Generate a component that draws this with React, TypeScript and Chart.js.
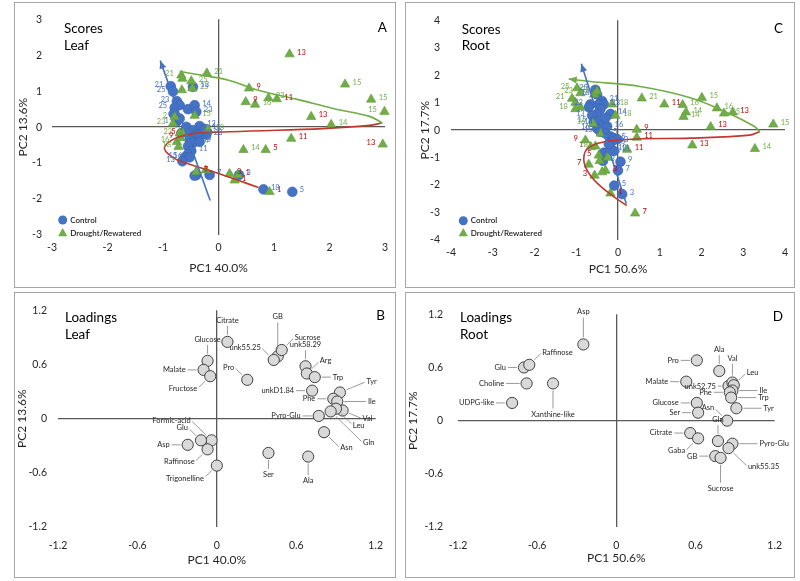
import React, { useEffect, useRef } from "react";
import { Chart, registerables } from "chart.js";
Chart.register(...registerables);

const FONT = "Lato, 'Noto Sans', sans-serif";
Chart.defaults.font.family = FONT;

const BLUE = "#4472c4";
const GREEN = "#70ad47";
const RED_LBL = "#c00000";
const CURVE_RED = "#c0392b";
const AXIS = "#595959";
const TICK = "#262626";

// ---------- tick values ----------
const leafScoreTicks = [-3, -2, -1, 0, 1, 2, 3];
const rootScoreTicks = [-4, -3, -2, -1, 0, 1, 2, 3, 4];
const loadingTicks = [-1.2, -0.6, 0, 0.6, 1.2];

// ---------- A: Scores Leaf ----------
const leafCtrlPC1 = [-0.86, -0.82, -0.75, -0.70, -0.79, -0.55, -0.43, -0.40, -0.46, -0.81, -0.76, -0.70, -0.58, -0.34, -0.46, -0.55, -0.40, -0.34, -0.52, -0.46, -0.55, -0.49, -0.55, -0.61, -0.52, -0.67, -0.22, -0.34, -0.40, -0.16, -0.43, 0.37, 0.81, 1.33, -0.65, -0.25];
const leafCtrlPC2 = [1.14, 0.99, 0.72, 0.61, 0.54, 0.50, 0.61, 0.43, 1.12, 0.37, 0.14, 0.24, 0.01, 0.03, -0.08, -0.17, -0.21, -0.21, -0.35, -0.44, -0.53, -0.66, -0.75, -0.84, -0.84, -0.17, -0.21, -0.41, -1.33, -1.33, -1.35, -1.33, -1.73, -1.80, -0.95, -0.05];
const leafCtrlId = ["21", "25", "23", "", "25", "18", "14", "23", "13", "", "1", "", "", "12", "", "", "14", "3", "", "14", "", "11", "", "15", "16", "", "23", "9", "5", "7", "", "3", "18", "5", "13", "11"];

const leafDrPC1 = [1.28, -0.21, -0.67, -0.65, -0.49, -0.66, -0.47, 2.28, 0.55, 2.75, 2.99, 0.49, 0.66, 0.90, 1.05, 1.67, 2.03, -0.43, -0.19, 1.31, 2.96, 0.45, 0.85, -0.40, -0.23, 0.20, 0.35, 0.29, 0.92, -0.79, -0.82, -0.70, -0.75, -0.64, -0.72, -0.68];
const leafDrPC2 = [2.03, 1.50, 1.44, 1.35, 1.28, 1.03, 1.08, 1.19, 1.08, 0.77, 0.43, 0.70, 0.63, 0.81, 0.78, 0.29, 0.07, 0.32, -0.06, -0.32, -0.48, -0.63, -0.63, -1.24, -1.20, -1.30, -1.33, -1.48, -1.80, 0.28, 0.10, -0.17, -0.41, -0.17, -0.55, -0.30];
const leafDrId = ["13", "21", "21", "", "25", "", "25", "15", "9", "15", "15", "9", "16", "23", "11", "13", "14", "15", "18", "11", "13", "14", "5", "7", "", "3", "1", "1", "1", "2", "23", "23", "16", "5", "18", "9"];
const leafDrStage = ["R", "D", "D", "D", "D", "D", "D", "D", "R", "D", "D", "R", "D", "D", "R", "R", "D", "D", "D", "R", "R", "D", "R", "R", "D", "R", "R", "R", "R", "D", "D", "D", "D", "R", "D", "R"];

const leafBluePC1 = [-0.15, -1.05];
const leafBluePC2 = [-2.04, 1.85];
const leafGreenPC1 = [-0.70, -0.52, 0.20, 0.68, 1.40, 2.12, 2.72, 2.95];
const leafGreenPC2 = [1.55, 1.50, 1.30, 1.04, 0.78, 0.50, 0.30, 0.12];
const leafRedPC1 = [2.95, 2.72, 1.88, 0.20, -0.60, -0.97, -0.82, -0.52, 0.08, 0.72];
const leafRedPC2 = [0.12, 0.05, -0.04, -0.13, -0.22, -0.55, -0.85, -1.03, -1.33, -1.68];

// ---------- C: Scores Root ----------
const rootCtrlPC1 = [-0.54, -0.50, -0.38, -0.34, -0.46, -0.66, -0.70, -0.42, -0.50, -0.62, -0.18, -0.42, -0.34, -0.26, -0.50, -0.42, -0.30, -0.18, -0.10, -0.02, -0.14, -0.34, -0.18, -0.10, -0.36, 0.06, 0.00, -0.09, 0.10, -0.58, -0.30, -0.22];
const rootCtrlPC2 = [1.47, 1.30, 1.06, 0.94, 0.94, 0.94, 0.83, 0.77, 0.59, 0.53, 0.59, 0.24, 0.18, 0.14, 0.06, -0.06, -0.12, -0.23, -0.29, -0.33, -0.41, -0.82, -0.71, -0.76, -1.12, -1.15, -1.47, -2.02, -2.33, 0.30, 0.45, -0.50];
const rootCtrlId = ["25", "18", "21", "23", "", "23", "", "11", "", "13", "14", "14", "", "16", "16", "15", "5", "", "5", "", "13", "18", "13", "11", "3", "9", "7", "5", "3", "15", "", "16"];

const rootDrPC1 = [-0.98, -0.90, -1.10, -1.02, -0.90, -1.02, -0.57, -0.50, -0.60, -0.41, -0.78, -0.65, -0.54, -0.46, -0.44, -0.30, -0.38, -0.56, 0.22, -0.18, -0.14, -0.06, 0.57, 1.11, 1.55, 2.01, 1.63, 1.57, 2.37, 2.54, 2.75, 2.22, 3.72, 0.45, 0.45, 1.78, 3.28, 0.41, -0.70, -0.25];
const rootDrPC2 = [1.53, 1.35, 1.15, 1.00, 0.83, 0.77, 1.30, 1.41, 0.24, -0.12, -0.37, -0.61, -0.59, -0.92, -1.12, -1.47, -1.53, -1.65, -0.71, -2.30, 0.94, 0.53, 1.16, 0.94, 0.92, 1.18, 0.65, 0.49, 0.80, 0.61, 0.65, 0.12, 0.21, 0.02, -0.27, -0.55, -0.68, -3.03, -1.25, -1.00];
const rootDrId = ["25", "23", "21", "", "", "18", "25", "21", "16", "", "9", "1", "18", "5", "", "3", "", "3", "11", "1", "18", "18", "21", "11", "16", "15", "14", "14", "16", "15", "13", "13", "15", "9", "11", "13", "14", "7", "7", ""];
const rootDrStage = ["D", "D", "D", "D", "D", "D", "D", "D", "D", "D", "R", "R", "D", "R", "D", "R", "D", "R", "R", "R", "D", "D", "D", "R", "D", "D", "D", "D", "D", "D", "R", "R", "D", "R", "R", "R", "D", "R", "R", "D"];

const rootBluePC1 = [0.20, -0.88];
const rootBluePC2 = [-2.68, 2.42];
const rootGreenPC1 = [3.40, 3.25, 2.69, 1.73, 0.53, -0.66, -1.18];
const rootGreenPC2 = [-0.05, 0.15, 0.59, 1.18, 1.59, 1.77, 1.86];
const rootRedPC1 = [3.40, 3.16, 1.73, 0.13, -0.66, -0.82, -0.66, -0.26, 0.21];
const rootRedPC2 = [-0.05, -0.18, -0.29, -0.35, -0.59, -1.06, -1.65, -2.24, -2.75];

// ---------- B: Loadings Leaf ----------
const leafLoadNames = ["Citrate", "GB", "Sucrose", "unk55.25", "Pro", "Glucose", "Malate", "Fructose", "unk58.29", "Arg", "Trp", "unkD1.84", "Tyr", "Phe", "Ile", "Val", "Leu", "Gln", "Pyro-Glu", "Asn", "Ser", "Ala", "Formic-acid", "Glu", "Asp", "Raffinose", "Trigonelline"];
const leafLoadPC1 = [0.08, 0.46, 0.49, 0.43, 0.23, -0.07, -0.10, -0.05, 0.67, 0.68, 0.74, 0.72, 0.93, 0.88, 0.91, 0.95, 0.90, 0.86, 0.77, 0.81, 0.39, 0.69, -0.04, -0.12, -0.22, -0.07, 0.00];
const leafLoadPC2 = [0.85, 0.69, 0.76, 0.65, 0.43, 0.64, 0.54, 0.47, 0.58, 0.50, 0.46, 0.31, 0.29, 0.22, 0.19, 0.09, 0.11, 0.08, 0.03, -0.15, -0.38, -0.42, -0.24, -0.24, -0.29, -0.34, -0.52];
const leafLoadDir = ["n", "n3", "ne", "nw", "nw", "n", "w", "sw", "n", "ne", "e", "w", "ene2.2", "w", "e2.4", "ese1.4", "se1.6", "se4", "w", "se1.5", "s", "s1.3", "nw2.2", "nw", "w", "sw", "sw"];

// ---------- D: Loadings Root ----------
const rootLoadNames = ["Asp", "Glu", "Raffinose", "Choline", "Xanthine-like", "UDPG-like", "Pro", "Ala", "Malate", "unk52.75", "Val", "Leu", "Ile", "Phe", "Trp", "Tyr", "Glucose", "Ser", "Asn", "Citrate", "Gaba", "Gln", "Pyro-Glu", "unk55.35", "GB", "Sucrose"];
const rootLoadPC1 = [-0.25, -0.70, -0.66, -0.68, -0.48, -0.79, 0.61, 0.78, 0.53, 0.85, 0.88, 0.89, 0.88, 0.86, 0.87, 0.91, 0.61, 0.62, 0.84, 0.56, 0.62, 0.77, 0.88, 0.85, 0.75, 0.79];
const rootLoadPC2 = [0.86, 0.60, 0.63, 0.42, 0.42, 0.20, 0.68, 0.56, 0.44, 0.39, 0.43, 0.40, 0.34, 0.32, 0.26, 0.14, 0.20, 0.09, 0.00, -0.14, -0.20, -0.23, -0.26, -0.31, -0.40, -0.42];
const rootLoadDir = ["n2.2", "w", "ne", "w1.5", "s2", "w", "w", "n", "w", "w0.4", "n1.3", "ne", "e2", "w", "e2", "e2", "w", "w", "nw", "w", "sw", "n", "e2", "se2", "w", "s2"];

// ---------- helpers ----------
const zip = (xs: number[], ys: number[]) => xs.map((x, i) => ({ x, y: ys[i] }));
const fmt = (v: any) => String(Math.round(Number(v) * 10) / 10);

const DIRV: Record<string, [number, number]> = {
  n: [0, -1], s: [0, 1], e: [1, 0], w: [-1, 0],
  ne: [0.72, -0.7], nw: [-0.72, -0.7], se: [0.72, 0.7], sw: [-0.72, 0.7],
  ene: [0.92, -0.38], ese: [0.92, 0.38], wnw: [-0.92, -0.38], wsw: [-0.92, 0.38],
  nne: [0.38, -0.92], nnw: [-0.38, -0.92], sse: [0.38, 0.92], ssw: [-0.38, 0.92],
};

type Lay = {
  W: number; H: number; padTop: number; padRight: number; yWidth: number; xHeight: number;
  xTickPad: number; xTitlePad: number; yTickPad: number; yTitlePad: number;
  titleX: number; title1Y: number; title2Y: number; letterX: number; letterY: number;
  legendX?: number; legendY1?: number; legendY2?: number;
};

function scales(L: Lay, ticksX: number[], ticksY: number[], xTitle: string, yTitle: string) {
  const grid = {
    drawTicks: false,
    color: (c: any) => (c.tick && Math.abs(c.tick.value) < 1e-9 ? AXIS : "rgba(0,0,0,0)"),
    lineWidth: 1.3,
  };
  return {
    x: {
      type: "linear", min: ticksX[0], max: ticksX[ticksX.length - 1],
      afterBuildTicks: (s: any) => { s.ticks = ticksX.map((v) => ({ value: v })); },
      afterFit: (s: any) => { s.height = L.xHeight; },
      grid, border: { display: false },
      ticks: { padding: L.xTickPad, font: { size: 10.5 }, color: TICK, maxRotation: 0, autoSkip: false, callback: fmt },
      title: { display: true, text: xTitle, font: { size: 12 }, color: TICK, padding: { top: 0, bottom: L.xTitlePad } },
    },
    y: {
      type: "linear", min: ticksY[0], max: ticksY[ticksY.length - 1],
      afterBuildTicks: (s: any) => { s.ticks = ticksY.map((v) => ({ value: v })); },
      afterFit: (s: any) => { s.width = L.yWidth; },
      grid, border: { display: false },
      ticks: { padding: L.yTickPad, font: { size: 10.5 }, color: TICK, autoSkip: false, callback: fmt },
      title: { display: true, text: yTitle, font: { size: 12 }, color: TICK, padding: { top: L.yTitlePad, bottom: 0 } },
    },
  };
}

function drawHeader(ctx: CanvasRenderingContext2D, L: Lay, t1: string, t2: string, letter: string) {
  ctx.save();
  ctx.fillStyle = "#000";
  ctx.font = `13.5px ${FONT}`;
  ctx.textAlign = "left";
  ctx.textBaseline = "alphabetic";
  ctx.fillText(t1, L.titleX, L.title1Y);
  ctx.fillText(t2, L.titleX, L.title2Y);
  ctx.textAlign = "right";
  ctx.fillText(letter, L.letterX, L.letterY);
  ctx.restore();
}

function arrowHead(ctx: CanvasRenderingContext2D, x0: number, y0: number, x1: number, y1: number, color: string) {
  const a = Math.atan2(y1 - y0, x1 - x0);
  const len = 8, w = 3.5;
  ctx.fillStyle = color;
  ctx.beginPath();
  ctx.moveTo(x1, y1);
  ctx.lineTo(x1 - len * Math.cos(a) + w * Math.sin(a), y1 - len * Math.sin(a) - w * Math.cos(a));
  ctx.lineTo(x1 - len * Math.cos(a) - w * Math.sin(a), y1 - len * Math.sin(a) + w * Math.cos(a));
  ctx.closePath();
  ctx.fill();
}

type ScoreSpec = {
  L: Lay; ticksX: number[]; ticksY: number[]; xTitle: string; yTitle: string;
  t1: string; t2: string; letter: string; split: number; rightEdge: number;
  ctrlX: number[]; ctrlY: number[]; ctrlId: string[];
  drX: number[]; drY: number[]; drId: string[]; drStage: string[];
  blueX: number[]; blueY: number[]; greenX: number[]; greenY: number[]; redX: number[]; redY: number[];
  greenArrow: boolean;
};

function scoresConfig(p: ScoreSpec): any {
  const L = p.L;
  const plugin = {
    id: "scoreDeco",
    afterDatasetsDraw(chart: any) {
      const ctx: CanvasRenderingContext2D = chart.ctx;
      ctx.save();
      const blue = chart.getDatasetMeta(0).data;
      arrowHead(ctx, blue[blue.length - 2].x, blue[blue.length - 2].y, blue[blue.length - 1].x, blue[blue.length - 1].y, BLUE);
      if (p.greenArrow) {
        const g = chart.getDatasetMeta(1).data;
        arrowHead(ctx, g[g.length - 2].x, g[g.length - 2].y, g[g.length - 1].x, g[g.length - 1].y, GREEN);
      }
      ctx.font = `7.5px ${FONT}`;
      ctx.textBaseline = "middle";
      const lab = (ds: number, ids: string[], xs: number[], col: (i: number) => string) => {
        chart.getDatasetMeta(ds).data.forEach((el: any, i: number) => {
          if (!ids[i]) return;
          const left = xs[i] < p.split || xs[i] > p.rightEdge;
          ctx.fillStyle = col(i);
          ctx.textAlign = left ? "right" : "left";
          ctx.fillText(ids[i], el.x + (left ? -7.5 : 7.5), el.y - 2);
        });
      };
      lab(3, p.drId, p.drX, (i) => (p.drStage[i] === "R" ? RED_LBL : GREEN));
      lab(4, p.ctrlId, p.ctrlX, () => BLUE);
      const lx = L.legendX!, y1 = L.legendY1!, y2 = L.legendY2!;
      ctx.fillStyle = BLUE;
      ctx.beginPath(); ctx.arc(lx, y1, 4.5, 0, Math.PI * 2); ctx.fill();
      ctx.fillStyle = GREEN;
      ctx.beginPath();
      ctx.moveTo(lx, y2 - 5.2); ctx.lineTo(lx + 4.6, y2 + 3); ctx.lineTo(lx - 4.6, y2 + 3); ctx.closePath(); ctx.fill();
      ctx.fillStyle = "#1a1a1a";
      ctx.font = `600 8px ${FONT}`;
      ctx.textAlign = "left";
      ctx.fillText("Control", lx + 7.5, y1);
      ctx.fillText("Drought/Rewatered", lx + 7.5, y2);
      ctx.restore();
      drawHeader(ctx, L, p.t1, p.t2, p.letter);
    },
  };
  return {
    type: "scatter",
    data: {
      datasets: [
        { data: zip(p.blueX, p.blueY), showLine: true, borderColor: BLUE, borderWidth: 1.6, pointRadius: 0, clip: false },
        { data: zip(p.greenX, p.greenY), showLine: true, tension: 0.4, borderColor: GREEN, borderWidth: 1.6, pointRadius: 0, clip: false },
        { data: zip(p.redX, p.redY), showLine: true, tension: 0.4, borderColor: CURVE_RED, borderWidth: 1.6, pointRadius: 0, clip: false },
        { data: zip(p.drX, p.drY), pointStyle: "triangle", pointRadius: 5.4, backgroundColor: GREEN, borderColor: "#5f9a3a", borderWidth: 0.6, clip: false },
        { data: zip(p.ctrlX, p.ctrlY), pointStyle: "circle", pointRadius: 4.9, backgroundColor: BLUE, borderColor: "#3a62ad", borderWidth: 0.6, clip: false },
      ],
    },
    options: {
      responsive: false, animation: false, devicePixelRatio: 1, events: [],
      layout: { padding: { left: 0, top: L.padTop, right: L.padRight, bottom: 0 } },
      plugins: { legend: { display: false }, tooltip: { enabled: false } },
      scales: scales(L, p.ticksX, p.ticksY, p.xTitle, p.yTitle),
    },
    plugins: [plugin],
  };
}

type LoadSpec = {
  L: Lay; xTitle: string; yTitle: string; t1: string; t2: string; letter: string;
  names: string[]; pc1: number[]; pc2: number[]; dirs: string[];
};

function loadingsConfig(p: LoadSpec): any {
  const L = p.L;
  const plugin = {
    id: "loadDeco",
    afterDatasetsDraw(chart: any) {
      const ctx: CanvasRenderingContext2D = chart.ctx;
      ctx.save();
      ctx.font = `7.5px ${FONT}`;
      chart.getDatasetMeta(0).data.forEach((el: any, i: number) => {
        const m = p.dirs[i].match(/^([nsew]+)([\d.]*)$/)!;
        const [ux, uy] = DIRV[m[1]];
        const mult = m[2] ? parseFloat(m[2]) : 1;
        const r0 = 7, len = 9 * mult;
        const x0 = el.x + ux * r0, y0 = el.y + uy * r0;
        const x1 = el.x + ux * (r0 + len), y1 = el.y + uy * (r0 + len);
        ctx.strokeStyle = "#7f7f7f";
        ctx.lineWidth = 0.8;
        ctx.beginPath(); ctx.moveTo(x0, y0); ctx.lineTo(x1, y1); ctx.stroke();
        ctx.fillStyle = "#262626";
        ctx.textAlign = ux > 0.1 ? "left" : ux < -0.1 ? "right" : "center";
        ctx.textBaseline = Math.abs(ux) > 0.1 ? "middle" : uy < 0 ? "bottom" : "top";
        ctx.fillText(p.names[i], x1 + ux * 2, y1 + uy * 2);
      });
      ctx.restore();
      drawHeader(ctx, L, p.t1, p.t2, p.letter);
    },
  };
  return {
    type: "scatter",
    data: {
      datasets: [
        { data: zip(p.pc1, p.pc2), pointStyle: "circle", pointRadius: 5.6, backgroundColor: "#d9d9d9", borderColor: "#404040", borderWidth: 1, clip: false },
      ],
    },
    options: {
      responsive: false, animation: false, devicePixelRatio: 1, events: [],
      layout: { padding: { left: 0, top: L.padTop, right: L.padRight, bottom: 0 } },
      plugins: { legend: { display: false }, tooltip: { enabled: false } },
      scales: scales(L, loadingTicks, loadingTicks, p.xTitle, p.yTitle),
    },
    plugins: [plugin],
  };
}

// ---------- layouts ----------
const layA: Lay = { W: 380, H: 284, padTop: 7, padRight: 10, yWidth: 37, xHeight: 52, xTickPad: 6, xTitlePad: 11.8, yTickPad: 10, yTitlePad: 1, titleX: 49, title1Y: 30, title2Y: 46.5, letterX: 372, letterY: 29, legendX: 47.7, legendY1: 217, legendY2: 230.3 };
const layC: Lay = { W: 388, H: 284, padTop: 10.5, padRight: 9, yWidth: 45, xHeight: 47, xTickPad: 6, xTitlePad: 10.8, yTickPad: 11, yTitlePad: 11.8, titleX: 55.7, title1Y: 30.5, title2Y: 47, letterX: 377, letterY: 29.7, legendX: 57.3, legendY1: 217.7, legendY2: 230.3 };
const layB: Lay = { W: 380, H: 284, padTop: 16, padRight: 13, yWidth: 43, xHeight: 50, xTickPad: 12, xTitlePad: 9.8, yTickPad: 11, yTitlePad: 0, titleX: 50, title1Y: 28.5, title2Y: 45.5, letterX: 370, letterY: 27 };
const layD: Lay = { W: 388, H: 284, padTop: 16, padRight: 12, yWidth: 52, xHeight: 50, xTickPad: 12, xTitlePad: 11.8, yTickPad: 15, yTitlePad: 0, titleX: 54, title1Y: 28.5, title2Y: 45.5, letterX: 377, letterY: 27.7 };

function Panel({ left, top, width, height, config }: { left: number; top: number; width: number; height: number; config: () => any }) {
  const ref = useRef<HTMLCanvasElement>(null);
  useEffect(() => {
    const chart = new Chart(ref.current as HTMLCanvasElement, config());
    return () => chart.destroy();
  }, []);
  return (
    <div style={{ position: "absolute", left, top, width, height, border: "1px solid #a6a6a6", boxSizing: "border-box", background: "#fff" }}>
      <canvas ref={ref} width={width - 2} height={height - 2} style={{ display: "block", width: width - 2, height: height - 2 }} />
    </div>
  );
}

export default function App() {
  return (
    <div style={{ position: "fixed", left: 0, top: 0, width: 800, height: 581, background: "#fff", overflow: "hidden" }}>
      <Panel left={14} top={2} width={382} height={286} config={() => scoresConfig({
        L: layA, ticksX: leafScoreTicks, ticksY: leafScoreTicks, xTitle: "PC1 40.0%", yTitle: "PC2 13.6%",
        t1: "Scores", t2: "Leaf", letter: "A", split: -0.5, rightEdge: 2.85,
        ctrlX: leafCtrlPC1, ctrlY: leafCtrlPC2, ctrlId: leafCtrlId,
        drX: leafDrPC1, drY: leafDrPC2, drId: leafDrId, drStage: leafDrStage,
        blueX: leafBluePC1, blueY: leafBluePC2, greenX: leafGreenPC1, greenY: leafGreenPC2, redX: leafRedPC1, redY: leafRedPC2,
        greenArrow: false,
      })} />
      <Panel left={405} top={2} width={390} height={286} config={() => scoresConfig({
        L: layC, ticksX: rootScoreTicks, ticksY: rootScoreTicks, xTitle: "PC1 50.6%", yTitle: "PC2 17.7%",
        t1: "Scores", t2: "Root", letter: "C", split: -0.4, rightEdge: 99,
        ctrlX: rootCtrlPC1, ctrlY: rootCtrlPC2, ctrlId: rootCtrlId,
        drX: rootDrPC1, drY: rootDrPC2, drId: rootDrId, drStage: rootDrStage,
        blueX: rootBluePC1, blueY: rootBluePC2, greenX: rootGreenPC1, greenY: rootGreenPC2, redX: rootRedPC1, redY: rootRedPC2,
        greenArrow: true,
      })} />
      <Panel left={14} top={292} width={382} height={286} config={() => loadingsConfig({
        L: layB, xTitle: "PC1 40.0%", yTitle: "PC2 13.6%", t1: "Loadings", t2: "Leaf", letter: "B",
        names: leafLoadNames, pc1: leafLoadPC1, pc2: leafLoadPC2, dirs: leafLoadDir,
      })} />
      <Panel left={405} top={292} width={390} height={286} config={() => loadingsConfig({
        L: layD, xTitle: "PC1 50.6%", yTitle: "PC2 17.7%", t1: "Loadings", t2: "Root", letter: "D",
        names: rootLoadNames, pc1: rootLoadPC1, pc2: rootLoadPC2, dirs: rootLoadDir,
      })} />
    </div>
  );
}
